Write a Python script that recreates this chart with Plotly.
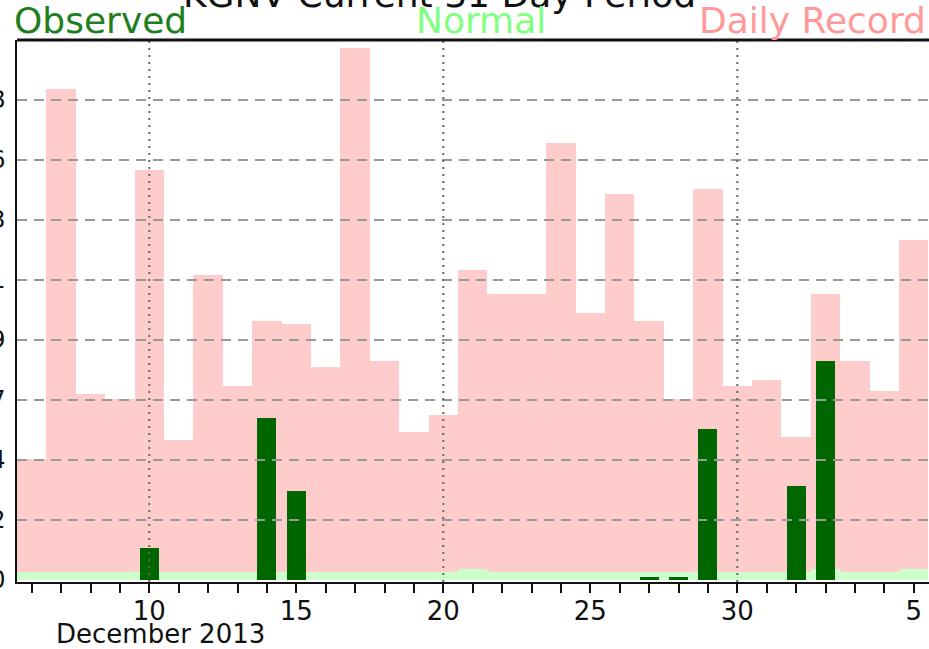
import plotly.graph_objects as go

# Day index: Dec 6 .. Jan 5 (Jan days continue past 31)
days = list(range(6, 37))

# Daily record precipitation (inches)
record = [0.45, 1.82, 0.69, 0.67, 1.52, 0.52, 1.13, 0.72, 0.96, 0.95,
          0.79, 1.97, 0.81, 0.55, 0.61, 1.15, 1.06, 1.06, 1.62, 0.99,
          1.43, 0.96, 0.67, 1.45, 0.72, 0.74, 0.53, 1.06, 0.81, 0.70, 1.26]

# Normal daily precipitation (inches)
normal = [0.03, 0.03, 0.03, 0.03, 0.03, 0.03, 0.03, 0.03, 0.03, 0.03,
          0.03, 0.03, 0.03, 0.03, 0.03, 0.04, 0.03, 0.03, 0.03, 0.03,
          0.03, 0.03, 0.03, 0.03, 0.03, 0.03, 0.03, 0.04, 0.03, 0.03, 0.04]

# Observed daily precipitation (inches)
observed = [0, 0, 0, 0, 0.12, 0, 0, 0, 0.60, 0.33,
            0, 0, 0, 0, 0, 0, 0, 0, 0, 0,
            0, 0.01, 0.01, 0.56, 0, 0, 0.35, 0.81, 0, 0, 0]

# Axis ticks
x_tick_vals = [10, 15, 20, 25, 30, 36]
x_tick_text = ["10", "15", "20", "25", "30", "5"]
x_grid_vals = [10, 20, 30]
y_max = 2.0
n_div = 9
y_tick_vals = [y_max * k / n_div for k in range(n_div)]
y_tick_text = ["%.2f\u2009" % v for v in y_tick_vals]

FONT = "DejaVu Sans"

fig = go.Figure()
fig.add_trace(go.Bar(x=days, y=record, width=1.0, marker=dict(color="#ffcccc", line=dict(width=0)),
                     name="Daily Record"))
fig.add_trace(go.Bar(x=days, y=normal, width=1.0, marker=dict(color="#ccffcc", line=dict(width=0)),
                     name="Normal"))
fig.add_trace(go.Bar(x=days, y=observed, width=0.65,
                     marker=dict(color="#006600", line=dict(width=0)),
                     name="Observed"))

# Grid lines drawn over the bars
shapes = []
for v in y_tick_vals[1:]:
    shapes.append(dict(type="line", xref="paper", yref="y", x0=0, x1=1, y0=v, y1=v,
                       line=dict(color="#999999", width=2, dash="10px,7px"), layer="above"))
for d in x_grid_vals:
    shapes.append(dict(type="line", xref="x", yref="paper", x0=d, x1=d, y0=0, y1=1,
                       line=dict(color="#666666", width=2, dash="2px,5px"), layer="above"))
# Top frame
shapes.append(dict(type="line", xref="paper", yref="paper", x0=0, x1=1, y0=1, y1=1,
                   line=dict(color="#111111", width=3), layer="above"))

H_PLOT = 542.0

def py(pix):
    # pixel row in the page -> paper y coordinate
    return (582 - pix) / H_PLOT

annotations = [
    dict(text="KGNV Current 31 Day Period", xref="paper", yref="paper", x=(439 - 17) / 912, y=py(-6),
         xanchor="center", yanchor="middle", showarrow=False, font=dict(family=FONT, size=36, color="#111111")),
    dict(text="Observed", xref="paper", yref="paper", x=(12 - 17) / 912, y=py(21),
         xanchor="left", yanchor="middle", showarrow=False, font=dict(family=FONT, size=36, color="#1f7f1f")),
    dict(text="Normal", xref="paper", yref="paper", x=(414 - 17) / 912, y=py(21),
         xanchor="left", yanchor="middle", showarrow=False, font=dict(family=FONT, size=36, color="#80ff80")),
    dict(text="Daily Record", xref="paper", yref="paper", x=(697 - 17) / 912, y=py(21),
         xanchor="left", yanchor="middle", showarrow=False, font=dict(family=FONT, size=36, color="#ff9999")),
    dict(text="December 2013", xref="paper", yref="paper", x=(54 - 17) / 912, y=py(634),
         xanchor="left", yanchor="middle", showarrow=False, font=dict(family=FONT, size=26, color="#111111")),
]

fig.update_layout(
    width=929, height=649,
    margin=dict(l=17, r=0, t=40, b=67, autoexpand=False),
    paper_bgcolor="white", plot_bgcolor="white",
    barmode="overlay", bargap=0, showlegend=False,
    font=dict(family=FONT, color="#111111"),
    shapes=shapes, annotations=annotations,
)
fig.update_xaxes(
    range=[5.5, 5.5 + 912 / 29.4], tickmode="array", tickvals=x_tick_vals, ticktext=x_tick_text,
    ticks="outside", ticklen=9, tickwidth=2, tickcolor="#111111", ticklabelstandoff=-4,
    minor=dict(tickvals=days, ticks="outside", ticklen=9, tickwidth=2, tickcolor="#111111", showgrid=False),
    showline=True, linecolor="#111111", linewidth=2, showgrid=False, zeroline=False,
    tickfont=dict(family=FONT, size=26, color="#111111"), automargin=False,
)
fig.update_yaxes(
    range=[-2 / 270, y_max], tickmode="array", tickvals=y_tick_vals, ticktext=y_tick_text,
    ticks="", showline=True, linecolor="#111111", linewidth=2, showgrid=False, zeroline=False,
    tickfont=dict(family=FONT, size=24, color="#111111"), automargin=False,
)

fig.write_html("out.html")
